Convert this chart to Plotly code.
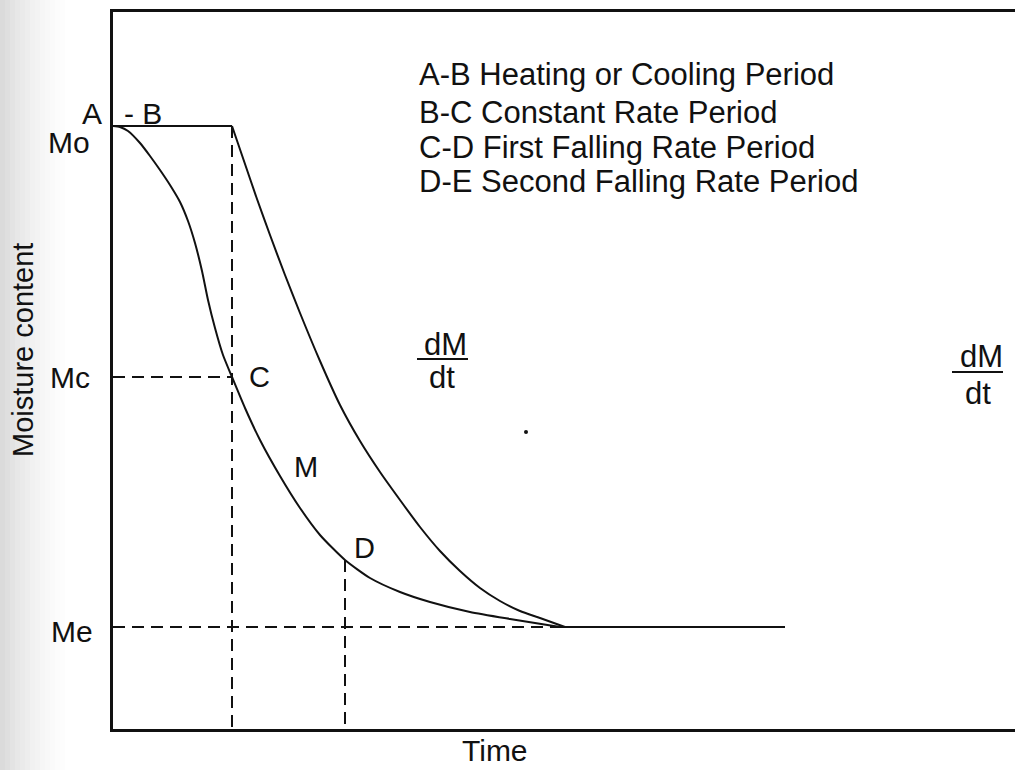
import plotly.graph_objects as go

# Characteristic moisture levels (arbitrary units)
MO = 60.3   # initial moisture content
MC = 35.2   # critical moisture content
MD = 16.9   # moisture at start of second falling rate period
ME = 10.2   # equilibrium moisture content

# Characteristic times (arbitrary units)
T_B = 11.9    # end of heating / start of constant rate (point B, C)
T_D = 23.2    # start of second falling rate period (point D)
T_END = 67.2  # end of drawn equilibrium line

# Moisture vs time curve (M)
time_m = [0, 0.7, 1.5, 2.7, 3.7, 4.7, 5.7, 6.7, 7.5, 8.2, 8.9, 9.5, 10.2,
          11.0, 11.9, 13.2, 14.7, 16.7, 18.7, 20.7, 23.2, 25.7, 28.7, 31.7,
          35.7, 39.7, 44.7]
moist_m = [60.3, 60.2, 59.8, 58.6, 57.3, 55.9, 54.4, 52.7, 50.8, 48.6, 45.8,
           42.9, 40.1, 37.4, 35.2, 32.1, 28.9, 25.3, 22.1, 19.4, 16.9, 15.1,
           13.7, 12.7, 11.7, 11.0, 10.2]

# Drying-rate curve (dM/dt)
time_rate = [11.9, 13.2, 14.4, 15.7, 17.2, 18.7, 20.7, 22.7, 24.7, 26.7, 28.7,
             30.7, 32.7, 34.7, 36.7, 38.7, 40.7, 42.7, 45.2]
moist_rate = [60.3, 56.5, 53.0, 49.4, 45.4, 41.6, 36.8, 32.4, 28.8, 25.7, 22.9,
              20.2, 17.8, 15.8, 14.1, 12.8, 11.8, 11.1, 10.2]

period_labels = [
    "A-B Heating or Cooling Period",
    "B-C Constant Rate Period",
    "C-D First Falling Rate Period",
    "D-E Second Falling Rate Period",
]

W, H = 1015, 770
ML, MR, MT, MB = 113, 0, 12, 41
PW, PH = W - ML - MR, H - MT - MB
FONT = "Liberation Sans, Arial, sans-serif"
BLACK = "#111111"


def px(xp):
    return (xp - ML) / PW


def py(yp):
    return (H - MB - yp) / PH


fig = go.Figure()

solid = dict(color=BLACK, width=2)
dashed = dict(color=BLACK, width=2, dash="12px,7px")
smooth = dict(shape="spline", smoothing=0.6, **solid)

# Constant-moisture segment A-B
fig.add_trace(go.Scatter(x=[0, T_B], y=[MO, MO], mode="lines", line=solid))
# Moisture curve
fig.add_trace(go.Scatter(x=time_m, y=moist_m, mode="lines", line=smooth))
# Rate curve
fig.add_trace(go.Scatter(x=time_rate, y=moist_rate, mode="lines", line=smooth))
# Equilibrium tail
fig.add_trace(go.Scatter(x=[time_m[-1], T_END], y=[ME, ME], mode="lines", line=solid))

# Guide lines
fig.add_trace(go.Scatter(x=[T_B, T_B], y=[MO, 0], mode="lines", line=dashed))
fig.add_trace(go.Scatter(x=[0, T_B], y=[MC, MC], mode="lines", line=dashed))
fig.add_trace(go.Scatter(x=[T_D, T_D], y=[MD, 0], mode="lines", line=dashed))
fig.add_trace(go.Scatter(x=[0, time_m[-1]], y=[ME, ME], mode="lines", line=dashed))

shapes = []
# soft grey shading along the left edge of the page
n_strips = 14
for i in range(n_strips):
    x0 = i * 5
    shapes.append(dict(type="rect", xref="paper", yref="paper",
                       x0=px(x0), x1=px(x0 + 5), y0=py(H), y1=py(0),
                       fillcolor="rgba(150,150,150,%.3f)" % (0.34 * (1 - i / n_strips) ** 1.6),
                       line=dict(width=0), layer="below"))

# fraction bars of the dM/dt labels
for x0, x1, yb in [(417, 468, 359), (952, 1003, 372)]:
    shapes.append(dict(type="line", xref="paper", yref="paper",
                       x0=px(x0), x1=px(x1), y0=py(yb), y1=py(yb),
                       line=dict(color=BLACK, width=2)))

# small speck
shapes.append(dict(type="circle", xref="paper", yref="paper",
                   x0=px(524), x1=px(528), y0=py(430), y1=py(434),
                   fillcolor=BLACK, line=dict(width=0)))

ann = []


def label(text, x, y, xanchor="center", yanchor="middle", xref="paper",
          yref="paper", size=29, xshift=0, yshift=0, angle=0):
    ann.append(dict(text=text, x=x, y=y, xref=xref, yref=yref, xanchor=xanchor,
                    yanchor=yanchor, showarrow=False, xshift=xshift,
                    yshift=yshift, textangle=angle,
                    font=dict(family=FONT, size=size, color=BLACK)))


# axis level labels
label("Mo", 0, MO, xanchor="right", xref="x", yref="y", xshift=-21, yshift=-16, size=30)
label("Mc", 0, MC, xanchor="right", xref="x", yref="y", xshift=-21, size=30)
label("Me", 0, ME, xanchor="right", xref="x", yref="y", xshift=-18, yshift=-4, size=30)
label("A", 0, MO, xanchor="right", xref="x", yref="y", xshift=-9, yshift=13, size=30)
label("- B", 0, MO, xanchor="left", xref="x", yref="y", xshift=9, yshift=13, size=30)

# point labels
label("C", T_B, MC, xanchor="left", xref="x", yref="y", xshift=15)
label("D", T_D, MD, xanchor="left", xref="x", yref="y", xshift=7, yshift=12)
label("M", px(306), py(467))

# period legend
for txt, yc in zip(period_labels, [75, 112, 147, 182]):
    label(txt, px(417), py(yc), xanchor="left", size=31)

# dM/dt labels
label("dM", px(445), py(344), size=31)
label("dt", px(442), py(377), size=31)
label("dM", px(981), py(356), size=31)
label("dt", px(978), py(393), size=31)

# axis titles
label("Time", px(495), py(769), yanchor="bottom", size=30)
label("Moisture content", px(23), py(350), size=29, angle=-90)

fig.update_layout(
    width=W, height=H,
    margin=dict(l=ML, r=MR, t=MT, b=MB),
    paper_bgcolor="white", plot_bgcolor="white",
    showlegend=False,
    shapes=shapes, annotations=ann,
    xaxis=dict(range=[0, PW / 10], showgrid=False, zeroline=False, showticklabels=False,
               ticks="", showline=True, linecolor=BLACK, linewidth=2.5, mirror=True),
    yaxis=dict(range=[0, PH / 10], showgrid=False, zeroline=False, showticklabels=False,
               ticks="", showline=True, linecolor=BLACK, linewidth=2.5),
)

fig.write_html("out.html")
